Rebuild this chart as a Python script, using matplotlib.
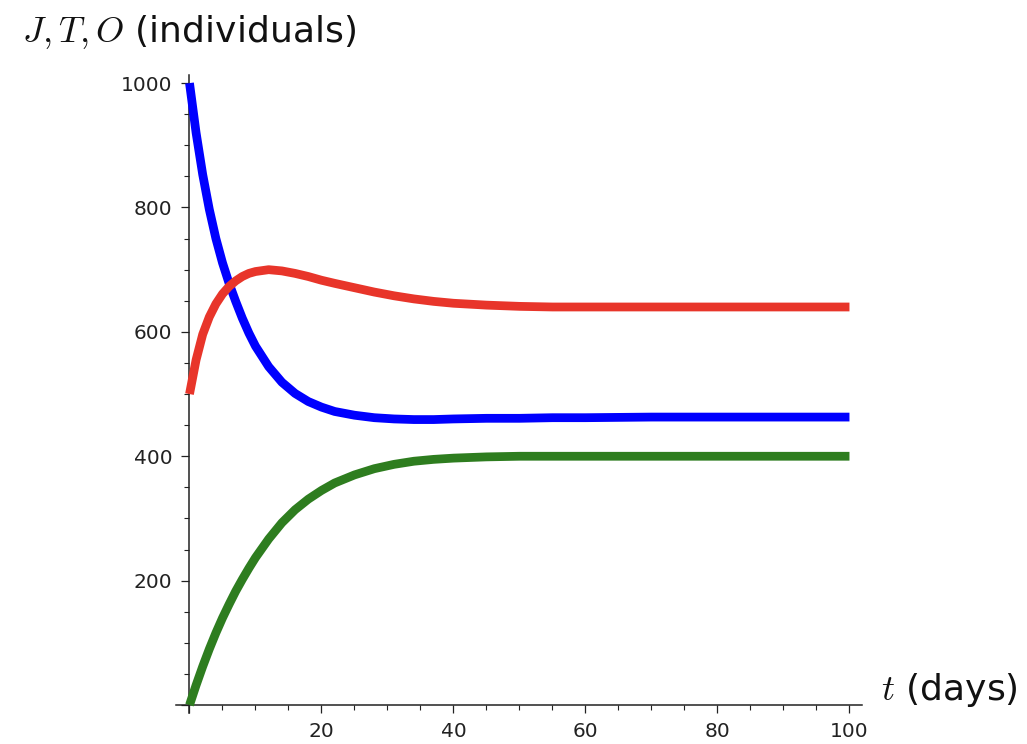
import matplotlib
matplotlib.use("Agg")
import matplotlib.pyplot as plt
from matplotlib.ticker import MultipleLocator

# ---- data ----
t_days = [0, 1, 2, 3, 4, 5, 6, 7, 8, 9, 10, 12, 14, 16, 18, 20, 22, 25, 28, 31,
          34, 37, 40, 45, 50, 55, 60, 70, 80, 90, 100]
J_vals = [1000, 920, 853, 797, 750, 711, 678, 649, 622, 598, 577, 544, 519, 501,
          488, 479, 472, 466, 462, 460, 459, 459, 460, 461, 461, 462, 462, 463,
          463, 463, 463]
T_vals = [500, 555, 596, 624, 645, 661, 673, 682, 689, 694, 697, 700, 698, 694,
          689, 683, 678, 671, 664, 658, 653, 649, 646, 643, 641, 640, 640, 640,
          640, 640, 640]
O_vals = [0, 32, 62, 90, 116, 140, 162, 183, 202, 220, 237, 267, 293, 314, 331,
          345, 357, 370, 380, 387, 392, 395, 397, 399, 400, 400, 400, 400, 400,
          400, 400]

x_ticks = [0, 20, 40, 60, 80, 100]
x_tick_labels = ["", "20", "40", "60", "80", "100"]
y_ticks = [0, 200, 400, 600, 800, 1000]
y_tick_labels = ["", "200", "400", "600", "800", "1000"]

plt.rcParams["mathtext.fontset"] = "cm"

W, H = 1027, 744
fig = plt.figure(figsize=(W / 100, H / 100), dpi=100)
left, right = 176.3, 862.0
top, bottom = 75.0, 712.5
ax = fig.add_axes([left / W, 1 - bottom / H, (right - left) / W, (bottom - top) / H])
ax.set_xlim(-2.0, 101.9)
ax.set_ylim(-12.0, 1013.0)

lw = 6.3
ax.plot(t_days, J_vals, color="#0000ff", lw=lw, solid_capstyle="butt",
        solid_joinstyle="round", zorder=3, clip_on=False)
ax.plot(t_days, T_vals, color="#e8352a", lw=lw, solid_capstyle="butt",
        solid_joinstyle="round", zorder=3, clip_on=False)
ax.plot(t_days, O_vals, color="#2e7d1f", lw=lw, solid_capstyle="butt",
        solid_joinstyle="round", zorder=3, clip_on=False)

for s in ["top", "right"]:
    ax.spines[s].set_visible(False)
for s in ["left", "bottom"]:
    ax.spines[s].set_position(("data", 0))
    ax.spines[s].set_linewidth(1.1)
    ax.spines[s].set_color("#222222")

ax.set_xticks(x_ticks)
ax.set_xticklabels(x_tick_labels)
ax.set_yticks(y_ticks)
ax.set_yticklabels(y_tick_labels)
ax.xaxis.set_minor_locator(MultipleLocator(5))
ax.yaxis.set_minor_locator(MultipleLocator(50))
ax.tick_params(which="major", length=5.8, width=0.9, color="#222222",
               labelsize=14.5, labelcolor="#222222", pad=6.5)
ax.tick_params(which="minor", length=3.4, width=0.8, color="#222222")

fig.text(22 / W, 1 - 32 / H, r"$J,T,O$ (individuals)", fontsize=26,
         ha="left", va="center", color="#111111")
fig.text(881 / W, 1 - 690 / H, r"$t$ (days)", fontsize=26,
         ha="left", va="center", color="#111111")

fig.savefig("out.png", dpi=100)
